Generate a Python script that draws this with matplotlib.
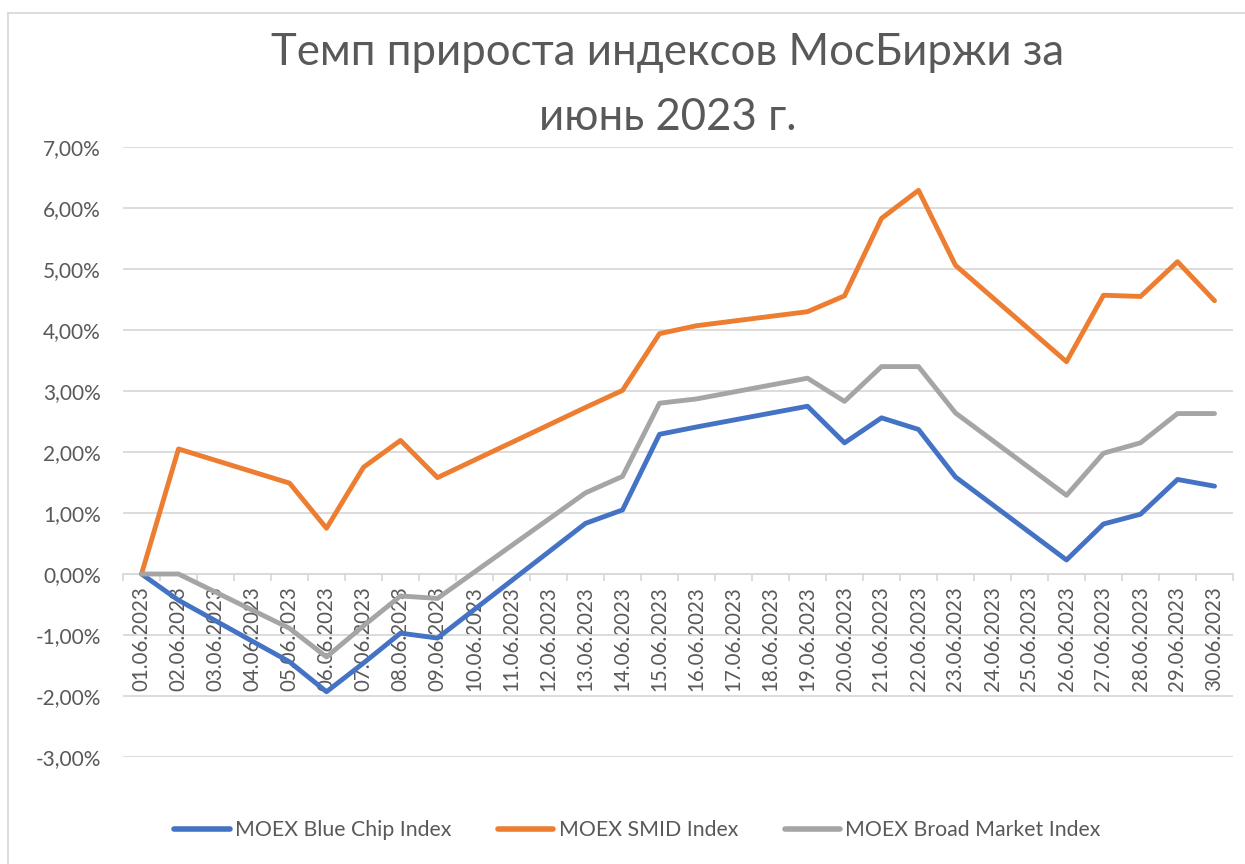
import matplotlib
matplotlib.use("Agg")
import matplotlib.pyplot as plt
from matplotlib.lines import Line2D
from matplotlib.ticker import FuncFormatter, FixedLocator

plt.rcParams['font.family'] = ['Lato', 'DejaVu Sans']

# ---- data ----
date_labels = [f"{d:02d}.06.2023" for d in range(1, 31)]
trade_days = [1, 2, 5, 6, 7, 8, 9, 13, 14, 15, 16, 19, 20, 21, 22, 23, 26, 27, 28, 29, 30]
blue_chip = [0.00, -0.43, -1.44, -1.93, -1.46, -0.97, -1.05, 0.83, 1.05, 2.29, 2.41,
             2.75, 2.15, 2.56, 2.37, 1.59, 0.23, 0.82, 0.98, 1.55, 1.44]
smid = [0.00, 2.05, 1.49, 0.75, 1.75, 2.19, 1.58, 2.73, 3.01, 3.94, 4.07,
        4.30, 4.56, 5.83, 6.29, 5.06, 3.48, 4.57, 4.55, 5.12, 4.48]
broad = [0.00, 0.00, -0.89, -1.36, -0.85, -0.36, -0.40, 1.33, 1.60, 2.80, 2.87,
         3.21, 2.83, 3.40, 3.40, 2.64, 1.29, 1.98, 2.15, 2.63, 2.63]
series_names = ["MOEX Blue Chip Index", "MOEX SMID Index", "MOEX Broad Market Index"]
colors = ["#4472C4", "#ED7D31", "#A5A5A5"]
title = "Темп прироста индексов МосБиржи за\nиюнь 2023 г."

TXT = "#595959"
GRID = "#D9D9D9"

fig = plt.figure(figsize=(12.45, 8.64), dpi=100)
ax = fig.add_axes([123 / 1245, 1 - 757 / 864, (1233 - 123) / 1245, (757 - 147) / 864])

x = [d - 1 for d in trade_days]
for vals, name, c in zip([blue_chip, smid, broad], series_names, colors):
    ax.plot(x, vals, color=c, lw=3.5, label=name, solid_capstyle='round',
            solid_joinstyle='round', zorder=3)

ax.set_xlim(-0.5, 29.5)
ax.set_ylim(-3, 7)
ax.set_yticks(range(-3, 8))
ax.yaxis.set_major_formatter(FuncFormatter(lambda v, p: f"{v:.2f}%".replace('.', ',')))
ax.grid(axis='y', color=GRID, lw=1.3, zorder=0)
ax.tick_params(axis='y', length=0, pad=16, labelsize=15, labelcolor=TXT)

for s in ['top', 'right', 'left']:
    ax.spines[s].set_visible(False)
ax.spines['bottom'].set_position(('data', 0))
ax.spines['bottom'].set_color(GRID)
ax.spines['bottom'].set_linewidth(1.3)
ax.spines['bottom'].set_zorder(1)

ax.xaxis.set_major_locator(FixedLocator([i - 0.5 for i in range(31)]))
ax.xaxis.set_minor_locator(FixedLocator(list(range(30))))
ax.xaxis.set_major_formatter(FuncFormatter(lambda v, p: ""))
ax.xaxis.set_minor_formatter(FuncFormatter(lambda v, p: date_labels[int(round(v))] if 0 <= round(v) < 30 else ""))
ax.tick_params(axis='x', which='major', length=5, width=1.3, color=GRID, direction='out')
ax.tick_params(axis='x', which='minor', length=0, pad=9, labelsize=14.8, labelcolor=TXT, labelrotation=90)

fig.text(0.536, 1 - 85 / 864, title, ha='center', va='center', fontsize=31.5,
         color=TXT, linespacing=1.72)

leg = fig.legend(loc='center', bbox_to_anchor=(0.512, 1 - 830 / 864), ncol=3, frameon=False,
                 fontsize=15.3, handlelength=2.6, columnspacing=2.2, handletextpad=0.25)
for t in leg.get_texts():
    t.set_color(TXT)
for h in leg.legend_handles:
    h.set_linewidth(4)

fig.add_artist(Line2D([7.5 / 1245, 7.5 / 1245], [0, 1 - 12.5 / 864], transform=fig.transFigure,
                      color=GRID, lw=1.3))
fig.add_artist(Line2D([7.5 / 1245, 1], [1 - 12.5 / 864, 1 - 12.5 / 864], transform=fig.transFigure,
                      color=GRID, lw=1.3))

fig.savefig("out.png", dpi=100, facecolor="white")
